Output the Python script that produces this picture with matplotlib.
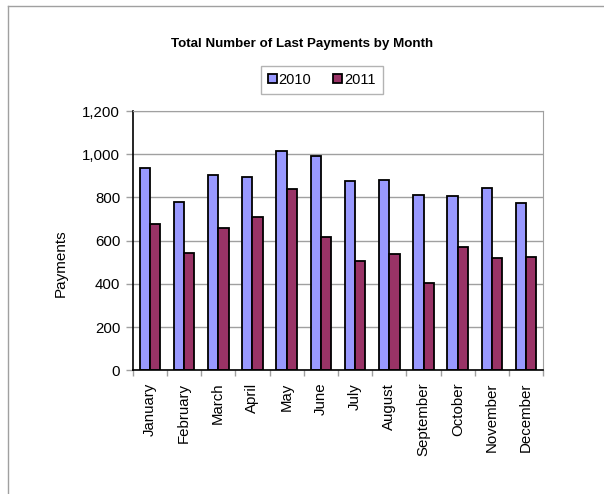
import matplotlib
matplotlib.use("Agg")
import matplotlib.pyplot as plt
from matplotlib.lines import Line2D
import numpy as np

months = ["January", "February", "March", "April", "May", "June", "July",
          "August", "September", "October", "November", "December"]
pay_2010 = [935, 780, 906, 895, 1017, 992, 878, 880, 810, 807, 843, 775]
pay_2011 = [677, 543, 660, 708, 839, 617, 507, 538, 404, 571, 520, 524]
series_labels = ["2010", "2011"]
yticks = [0, 200, 400, 600, 800, 1000, 1200]
ytick_labels = ["0", "200", "400", "600", "800", "1,000", "1,200"]

plt.rcParams['font.family'] = ['Liberation Sans', 'DejaVu Sans']

W, H = 604, 494
fig = plt.figure(figsize=(W / 100, H / 100), dpi=100)

left, right, top, bottom = 132.7, 543.3, 111.1, 370.3
ax = fig.add_axes([left / W, 1 - bottom / H, (right - left) / W, (bottom - top) / H])

x = np.arange(len(months))
bw = 0.3
ax.bar(x - bw / 2, pay_2010, bw, color="#9999FF", edgecolor="black", linewidth=1.3,
       label=series_labels[0], zorder=3)
ax.bar(x + bw / 2, pay_2011, bw, color="#993366", edgecolor="black", linewidth=1.3,
       label=series_labels[1], zorder=3)

ax.set_xlim(-0.5, len(months) - 0.5)
ax.set_ylim(0, 1200)
ax.set_yticks(yticks)
ax.set_yticklabels(ytick_labels, fontsize=10.8)
ax.yaxis.grid(True, color="#a0a0a0", linewidth=1.0, zorder=0)

ax.set_xticks(x)
ax.set_xticklabels(months, rotation=90, fontsize=10.8)
ax.tick_params(axis="x", which="major", length=0, pad=9)
ax.set_xticks(np.arange(-0.5, len(months), 1.0), minor=True)
ax.tick_params(axis="x", which="minor", length=4, color="#a0a0a0", width=1)
ax.tick_params(axis="y", length=5, color="#a0a0a0", width=1, pad=4)

ax.spines["left"].set_color("black")
ax.spines["bottom"].set_color("black")
ax.spines["left"].set_linewidth(1.2)
ax.spines["bottom"].set_linewidth(1.2)
ax.spines["right"].set_color("#a0a0a0")
ax.spines["top"].set_color("#a0a0a0")
ax.spines["bottom"].set_zorder(4)

fig.text(302 / W, 1 - 44 / H, "Total Number of Last Payments by Month",
         ha="center", va="center", fontsize=9.6, fontweight="bold")
fig.text(61 / W, 1 - 263 / H, "Payments", rotation=90, ha="center", va="center",
         fontsize=11)

leg = fig.legend(loc="center", bbox_to_anchor=(321.8 / W, 1 - 80 / H), ncol=2,
                 fontsize=10.5, frameon=True, fancybox=False, edgecolor="#a0a0a0",
                 handlelength=0.6, handleheight=0.6, handletextpad=0.15,
                 columnspacing=1.5, borderpad=0.5, borderaxespad=0)
leg.get_frame().set_linewidth(1.0)

fig.add_artist(Line2D([8 / W, 1], [1 - 6 / H, 1 - 6 / H], transform=fig.transFigure,
                      color="#a0a0a0", linewidth=1.0))
fig.add_artist(Line2D([8 / W, 8 / W], [1 - 6 / H, 0], transform=fig.transFigure,
                      color="#a0a0a0", linewidth=1.0))

fig.savefig("out.png", dpi=100)
